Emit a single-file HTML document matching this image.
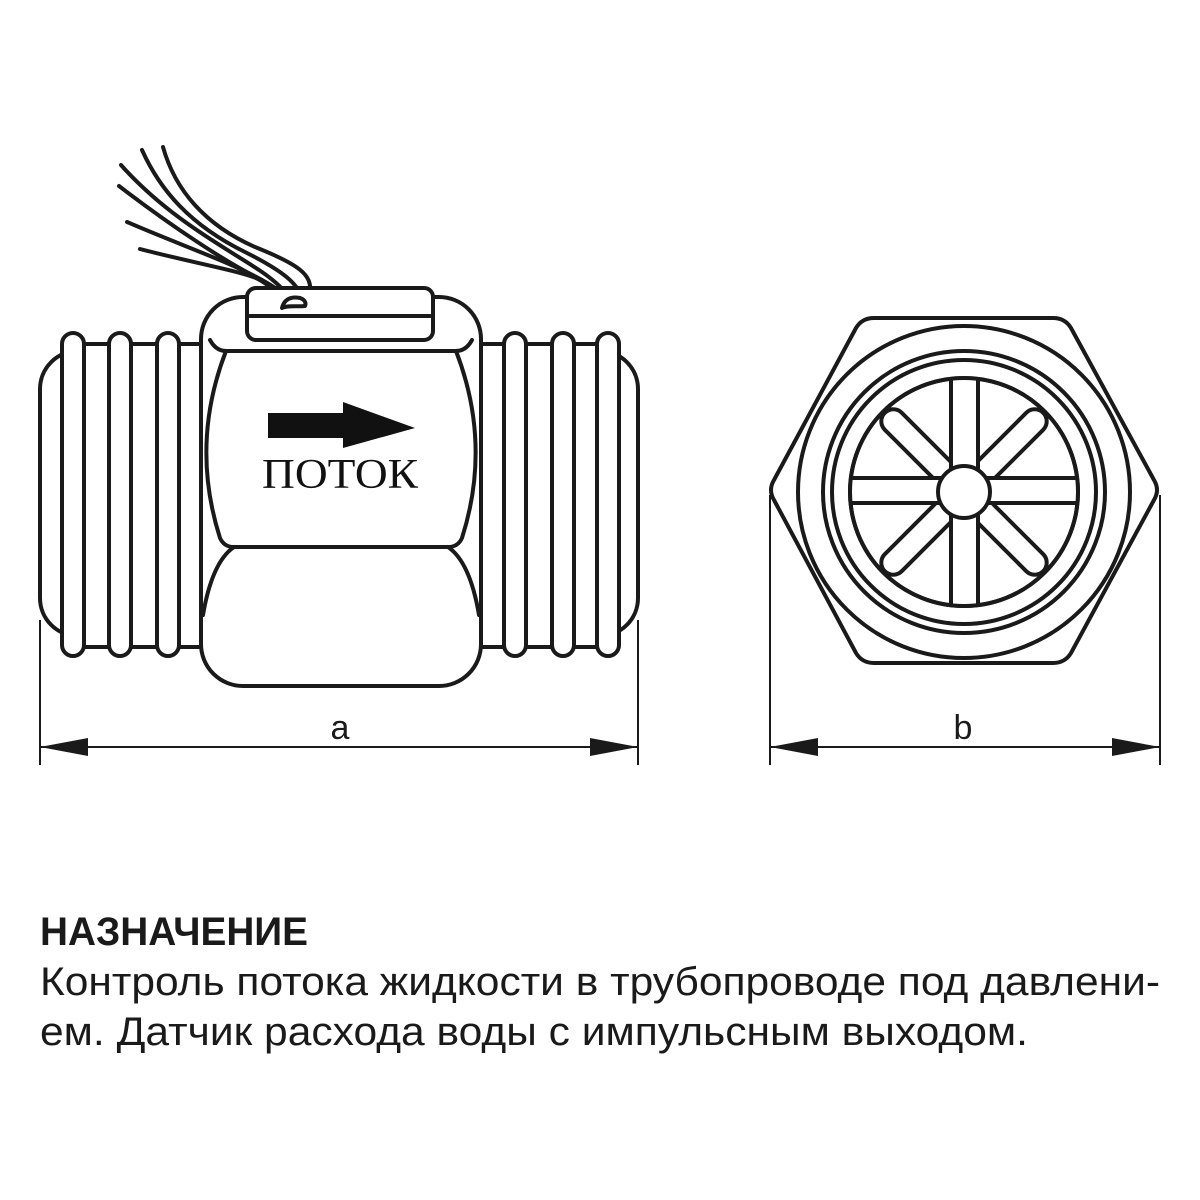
<!DOCTYPE html>
<html><head><meta charset="utf-8"><style>html,body{margin:0;padding:0;background:#fff}svg{display:block}</style></head>
<body>
<svg width="1200" height="1200" viewBox="0 0 1200 1200" xmlns="http://www.w3.org/2000/svg">
<g fill="none" stroke="#1a1a1a" stroke-width="4" stroke-linejoin="round" stroke-linecap="round">
  <!-- wires -->
  <path d="M121,165 C170,220 230,250 262,272 C285,288 292,300 292,306"/>
  <path d="M119,186 C170,225 225,262 262,280 C280,290 290,298 290,306"/>
  <path d="M127,222 C180,245 230,262 262,280"/>
  <path d="M140,249 C190,262 235,270 256,278"/>
  <path d="M142,150 C160,190 190,225 245,252 C285,272 300,285 303,302"/>
  <path d="M163,147 C175,190 205,225 255,247 C300,265 312,275 310,292 L305,305"/>
  <path d="M256,278 C270,285 280,295 282,308"/>
  <!-- end caps -->
  <rect x="40" y="351" width="598" height="285" rx="38" fill="#fff"/>
  <rect x="73" y="344" width="532" height="303" fill="#fff"/>
  <!-- rings -->
  <rect x="62" y="333" width="22" height="323" rx="11" fill="#fff"/>
  <rect x="109" y="333" width="22" height="323" rx="11" fill="#fff"/>
  <rect x="157" y="333" width="22" height="323" rx="11" fill="#fff"/>
  <rect x="504" y="333" width="22" height="323" rx="11" fill="#fff"/>
  <rect x="552" y="333" width="22" height="323" rx="11" fill="#fff"/>
  <rect x="597" y="333" width="22" height="323" rx="11" fill="#fff"/>
  <!-- hex body -->
  <rect x="201" y="297" width="280" height="389" rx="42" fill="#fff"/>
  <path d="M210,340 Q216,351 226,351 L456,351 Q466,351 472,340"/>
  <path d="M226,351 Q190,444 220,538 Q224,547 234,547 L448,547 Q458,547 462,538 Q492,444 456,351"/>
  <path d="M234,547 Q212,562 203,615"/>
  <path d="M448,547 Q470,562 479,615"/>
  <!-- top cap -->
  <rect x="247" y="288" width="186" height="52" rx="9" fill="#fff"/>
  <path d="M250,316 L430,316"/>
  <path d="M282,308 C284,300 290,296 300,298 C306,300 306,304 305,306 C296,307 288,305 282,308 Z" fill="#fff"/>
  <!-- right view -->
  <path d="M874,318 L1053,318 Q1065,318 1071,328 L1154,480 Q1160,490 1154,500 L1071,653 Q1065,663 1053,663 L874,663 Q862,663 856,653 L774,500 Q768,490 774,480 L856,328 Q862,318 874,318 Z" fill="#fff"/>
  <circle cx="964" cy="492" r="166"/>
  <circle cx="964" cy="492" r="141"/>
  <circle cx="964" cy="492" r="132"/>
  <circle cx="964" cy="492" r="114"/>
</g>
<defs><clipPath id="cp"><circle cx="964" cy="492" r="114"/></clipPath></defs>
<g fill="#fff" stroke="#1a1a1a" stroke-width="4">
  <rect x="952" y="380" width="24" height="224" rx="12" transform="rotate(45 964 492)"/>
  <rect x="952" y="380" width="24" height="224" rx="12" transform="rotate(-45 964 492)"/>
  <g clip-path="url(#cp)">
    <rect x="951" y="370" width="27" height="244"/>
    <rect x="842" y="478" width="244" height="25"/>
  </g>
  <circle cx="964" cy="492" r="114" fill="none"/>
  <circle cx="964" cy="492" r="26"/>
</g>
<!-- dimensions -->
<g stroke="#1a1a1a" stroke-width="2" fill="#1a1a1a">
  <line x1="40" y1="620" x2="40" y2="765"/>
  <line x1="638" y1="620" x2="638" y2="765"/>
  <line x1="40" y1="747" x2="638" y2="747"/>
  <polygon points="40,747 88,738 88,756" stroke="none"/>
  <polygon points="638,747 590,738 590,756" stroke="none"/>
  <line x1="770" y1="495" x2="770" y2="765"/>
  <line x1="1160" y1="495" x2="1160" y2="765"/>
  <line x1="770" y1="747" x2="1160" y2="747"/>
  <polygon points="770,747 818,738 818,756" stroke="none"/>
  <polygon points="1160,747 1112,738 1112,756" stroke="none"/>
</g>
<!-- arrow -->
<polygon points="268,413 343,413 343,402 415,428 343,448 343,438 268,438" fill="#111"/>
<g font-family="'Liberation Serif', serif" fill="#111">
  <text x="262" y="488" font-size="42" textLength="156" lengthAdjust="spacingAndGlyphs">ПОТОК</text>
</g>
<g font-family="'Liberation Sans', sans-serif" fill="#1a1a1a">
  <text x="340" y="739" font-size="34" text-anchor="middle">a</text>
  <text x="963" y="739" font-size="34" text-anchor="middle">b</text>
  <text x="40" y="945" font-size="40" font-weight="bold" textLength="268" lengthAdjust="spacingAndGlyphs">НАЗНАЧЕНИЕ</text>
  <text x="40" y="995" font-size="40" textLength="1120" lengthAdjust="spacingAndGlyphs">Контроль потока жидкости в трубопроводе под давлени-</text>
  <text x="40" y="1045" font-size="40" textLength="988" lengthAdjust="spacingAndGlyphs">ем. Датчик расхода воды с импульсным выходом.</text>
</g>
</svg>
</body></html>
